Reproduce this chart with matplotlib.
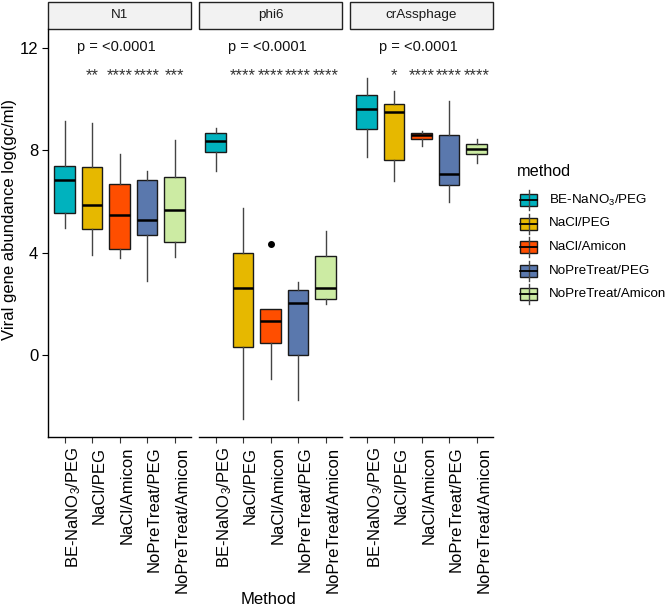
import matplotlib
matplotlib.use("Agg")
import matplotlib.pyplot as plt
from matplotlib.patches import Rectangle

plt.rcParams['font.family'] = ['Liberation Sans', 'DejaVu Sans']
plt.rcParams['mathtext.fontset'] = 'custom'
plt.rcParams['mathtext.rm'] = 'Liberation Sans'
plt.rcParams['mathtext.it'] = 'Liberation Sans:italic'

# data
targets = ['N1', 'phi6', 'crAssphage']
methods = ['BE-NaNO$_3$/PEG', 'NaCl/PEG', 'NaCl/Amicon', 'NoPreTreat/PEG', 'NoPreTreat/Amicon']
colors = ['#00B2BE', '#E6B800', '#FF4E00', '#5A78AD', '#CCEBA3']

whislo = {'N1': [4.97, 3.91, 3.80, 2.90, 3.83],
          'phi6': [7.21, -2.50, -0.95, -1.76, 1.98],
          'crAssphage': [7.75, 6.81, 8.16, 6.00, 7.51]}
q1 = {'N1': [5.57, 4.91, 4.14, 4.70, 4.43],
      'phi6': [7.94, 0.32, 0.48, 0.00, 2.19],
      'crAssphage': [8.82, 7.63, 8.45, 6.63, 7.86]}
med = {'N1': [6.84, 5.87, 5.49, 5.26, 5.66],
       'phi6': [8.35, 2.63, 1.32, 2.04, 2.63],
       'crAssphage': [9.63, 9.50, 8.59, 7.06, 8.05]}
q3 = {'N1': [7.39, 7.36, 6.69, 6.85, 6.94],
      'phi6': [8.66, 3.97, 1.82, 2.54, 3.86],
      'crAssphage': [10.18, 9.82, 8.68, 8.61, 8.24]}
whishi = {'N1': [9.15, 9.07, 7.85, 7.19, 8.39],
          'phi6': [8.89, 5.73, 1.82, 2.84, 4.84],
          'crAssphage': [10.84, 10.32, 8.76, 9.92, 8.45]}
outliers = {'N1': [[], [], [], [], []],
            'phi6': [[], [], [4.34], [], []],
            'crAssphage': [[], [], [], [], []]}
pvalue = 'p = <0.0001'
stars = {'N1': ['', '**', '****', '****', '***'],
         'phi6': ['', '****', '****', '****', '****'],
         'crAssphage': ['', '*', '****', '****', '****']}

W, H = 669, 610
fig = plt.figure(figsize=(W / 100, H / 100), dpi=100)

panel_left = [48, 199, 350]
top, bottom, pw = 29, 437, 143

for i, t in enumerate(targets):
    ax = fig.add_axes([panel_left[i] / W, (H - bottom) / H, pw / W, (bottom - top) / H])
    stats = []
    for j in range(5):
        stats.append(dict(med=med[t][j], q1=q1[t][j], q3=q3[t][j],
                          whislo=whislo[t][j], whishi=whishi[t][j], fliers=outliers[t][j]))
    bp = ax.bxp(stats, positions=range(1, 6), widths=0.75, patch_artist=True, showcaps=False,
                boxprops=dict(edgecolor='#1a1a1a', linewidth=1.0),
                medianprops=dict(color='black', linewidth=1.8),
                whiskerprops=dict(color='#444444', linewidth=1.0),
                flierprops=dict(marker='o', markerfacecolor='black', markeredgecolor='black',
                                markersize=4))
    for patch, c in zip(bp['boxes'], colors):
        patch.set_facecolor(c)

    ax.set_xlim(0.4, 5.6)
    ax.set_ylim(-3.2, 12.74)
    ax.set_xticks(range(1, 6))
    ax.set_xticklabels(methods, rotation=90, ha='left', va='top', fontsize=12)
    ax.tick_params(axis='x', length=4, width=0.8, color='#333333', pad=3)
    for sp in ['top', 'right']:
        ax.spines[sp].set_visible(False)
    ax.spines['bottom'].set_linewidth(1.0)
    if i == 0:
        ax.set_yticks([0, 4, 8, 12])
        ax.tick_params(axis='y', length=4, width=0.8, labelsize=12, pad=3)
        ax.spines['left'].set_linewidth(1.0)
    else:
        ax.spines['left'].set_visible(False)
        ax.set_yticks([])

    # p value and significance stars
    ax.text(1.45, 11.9, pvalue, ha='left', va='baseline', fontsize=10.5, color='#111111')
    for j in range(5):
        if stars[t][j]:
            ax.text(j + 1, 10.75, stars[t][j], ha='center', va='baseline', fontsize=12,
                    color='#333333')

    # facet strip
    sh = 27 / (bottom - top)
    ax.add_patch(Rectangle((0, 1.0), 1, sh, transform=ax.transAxes, clip_on=False,
                           facecolor='#F2F2F2', edgecolor='#222222', linewidth=1.0))
    ax.text(0.5, 1.0 + sh / 2, t, transform=ax.transAxes, ha='center', va='center',
            fontsize=9.7, color='#1a1a1a')

fig.text(10 / W, 1 - 219 / H, 'Viral gene abundance log(gc/ml)', rotation=90,
         ha='center', va='center', fontsize=12)
fig.text(269 / W, 1 - 600 / H, 'Method', ha='center', va='center', fontsize=12)

# legend
lax = fig.add_axes([500 / W, 0, 169 / W, 1])
lax.set_xlim(500, 669)
lax.set_ylim(H, 0)
lax.axis('off')
lax.text(517, 172, 'method', ha='left', va='center', fontsize=11.7)
key_y = [200, 223.5, 247, 270.5, 294]
for c, m, y in zip(colors, methods, key_y):
    lax.plot([528.5, 528.5], [y - 10, y + 10], color='#444444', lw=1.0)
    lax.add_patch(Rectangle((520, y - 6), 17, 12, facecolor=c, edgecolor='#1a1a1a', lw=1.0))
    lax.plot([520, 537], [y, y], color='black', lw=1.3)
    lax.text(549, y, m, ha='left', va='center', fontsize=9.6)

fig.savefig('out.png', dpi=100)
